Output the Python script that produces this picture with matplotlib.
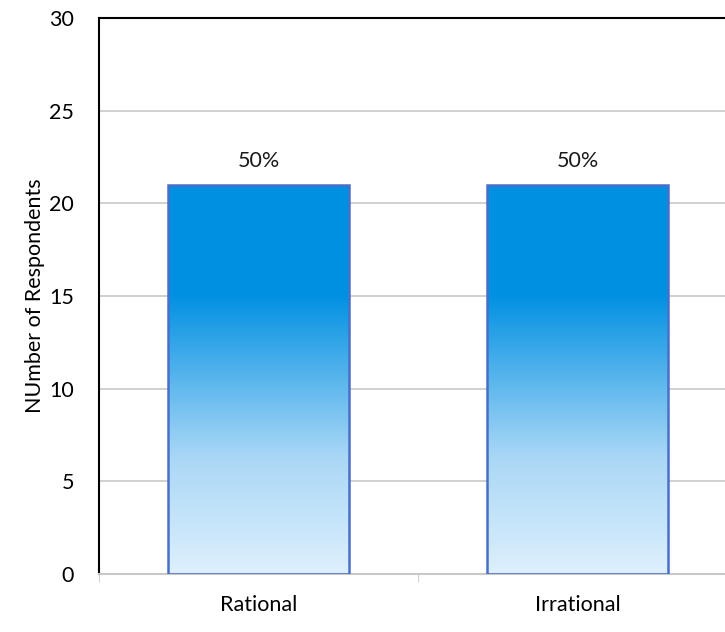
import numpy as np
import matplotlib; matplotlib.use('Agg')
import matplotlib.pyplot as plt
from matplotlib.colors import LinearSegmentedColormap

categories = ["Rational", "Irrational"]
respondents = [21, 21]
pct_labels = ["50%", "50%"]

plt.rcParams['font.family'] = ['Lato', 'DejaVu Sans']

fig = plt.figure(figsize=(7.25, 6.32), dpi=100)
ax = fig.add_axes([99 / 725, 58 / 632, 638 / 725, 556 / 632])

x = np.arange(len(categories))
bars = ax.bar(x, respondents, width=0.565, facecolor="none",
              edgecolor="#4a6fc8", linewidth=1.8, zorder=3)

# vertical gradient: light at bottom, solid blue from ~72% up
cmap = LinearSegmentedColormap.from_list(
    "grad", [(0.0, "#ddf0fd"), (0.3, "#a9d7f6"), (0.72, "#0090e2"), (1.0, "#0090e2")])
grad = np.linspace(0, 1, 256).reshape(-1, 1)
for b in bars:
    x0, y0 = b.get_x(), b.get_y()
    im = ax.imshow(grad, cmap=cmap, origin="lower", aspect="auto",
                   extent=[x0, x0 + b.get_width(), y0, y0 + b.get_height()], zorder=2)
    im.set_clip_path(b)

for xi, v, lab in zip(x, respondents, pct_labels):
    ax.text(xi, v + 1.3, lab, ha="center", va="center", fontsize=15.5, color="#1a1a1a")

ax.set_xlim(-0.5, 1.5)
ax.set_ylim(0, 30)
ax.set_yticks(range(0, 31, 5))
ax.yaxis.grid(True, color="#c8c8c8", linewidth=1.2, zorder=0)
ax.set_axisbelow(True)

ax.set_xticks(x)
ax.set_xticklabels(categories, fontsize=15.5)
ax.set_xticks([-0.5, 0.5, 1.5], minor=True)
ax.tick_params(axis="x", which="major", length=0, pad=15)
ax.tick_params(axis="x", which="minor", length=6, color="#c8c8c8", direction="out")
ax.tick_params(axis="y", length=0, labelsize=15.5, pad=18)

ax.spines["top"].set_color("black")
ax.spines["top"].set_linewidth(1.5)
ax.spines["left"].set_color("black")
ax.spines["left"].set_linewidth(1.5)
ax.spines["right"].set_visible(False)
ax.spines["bottom"].set_color("#c8c8c8")
ax.spines["bottom"].set_linewidth(1.5)

ax.set_ylabel("NUmber of Respondents", fontsize=15.5, labelpad=3)

fig.savefig("out.png", dpi=100)
